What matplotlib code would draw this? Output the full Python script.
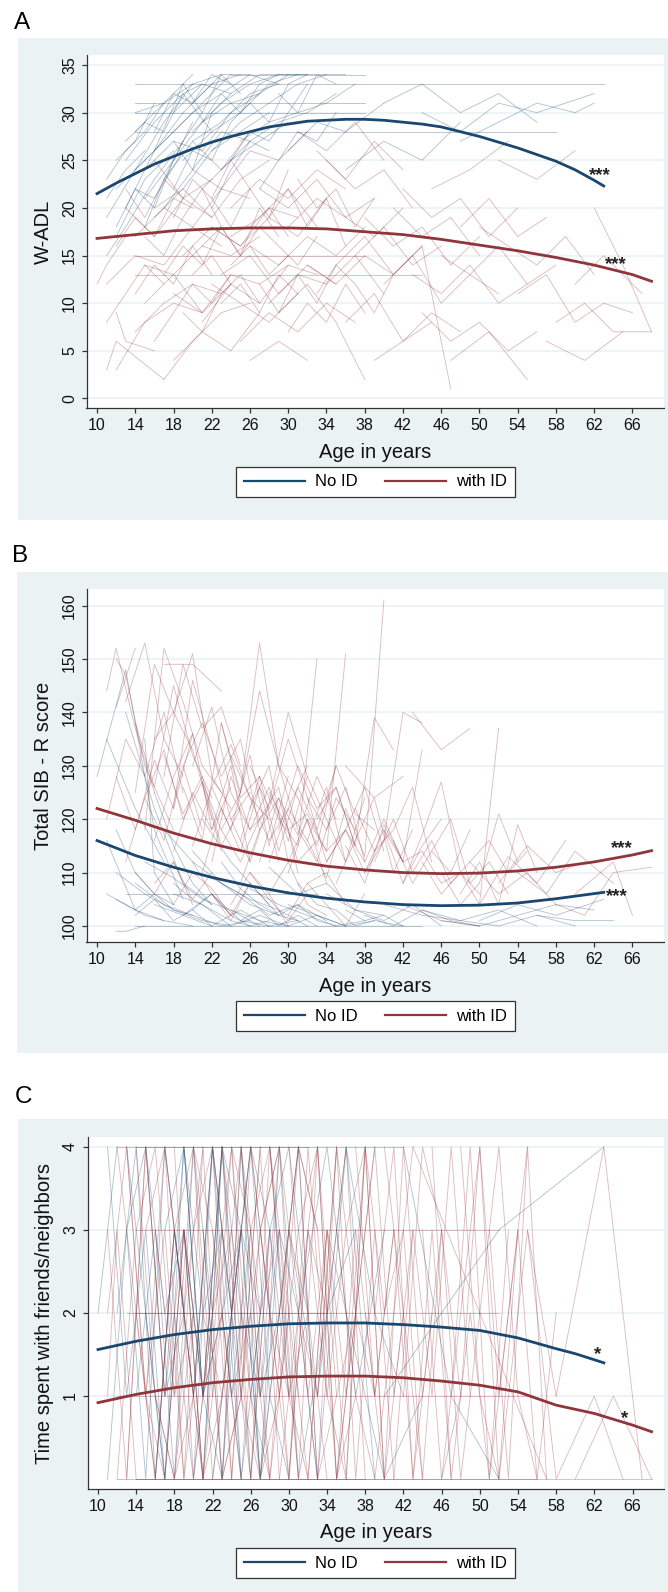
import matplotlib
matplotlib.use("Agg")
import matplotlib.pyplot as plt
from matplotlib.patches import Rectangle

plt.rcParams['font.family'] = ['Liberation Sans', 'DejaVu Sans']

W, H = 668, 1592
NAVY = "#1a476f"
MAROON = "#90353b"
PANEL_BG = "#eaf2f3"
AXIS_COL = "#333333"

age_ticks = [10, 14, 18, 22, 26, 30, 34, 38, 42, 46, 50, 54, 58, 62, 66]
group_labels = ["No ID", "with ID"]

# ---------------- panel A : W-ADL ----------------
adl_ticks = [0, 5, 10, 15, 20, 25, 30, 35]
adl_fit_age_noid = [10, 12, 14, 16, 18, 20, 22, 24, 26, 28, 30, 32, 34, 36, 38, 40, 42, 44, 46, 48, 50, 52, 54, 56, 58, 60, 62, 63]
adl_fit_noid = [21.5, 22.6, 23.6, 24.6, 25.4, 26.2, 26.9, 27.5, 28.0, 28.5, 28.8, 29.1, 29.2, 29.3, 29.3, 29.2, 29.0, 28.8,
                28.5, 28.0, 27.5, 26.9, 26.3, 25.6, 24.9, 24.0, 22.9, 22.3]
adl_fit_age_id = [10, 14, 18, 22, 26, 30, 34, 38, 42, 46, 50, 54, 58, 62, 66, 68]
adl_fit_id = [16.8, 17.2, 17.6, 17.8, 17.9, 17.9, 17.8, 17.5, 17.2, 16.7, 16.1, 15.5, 14.8, 14.0, 13.0, 12.3]
adl_stars = [("***", 62.6, 24.1), ("***", 64.3, 14.7)]

adl_noid = [
    ([11, 14, 17, 20], [19, 24, 29, 33]),
    ([12, 15, 18, 21, 24], [22, 25, 28, 31, 34]),
    ([13, 16, 19], [20, 26, 33]),
    ([14, 17, 20, 23, 26], [24, 27, 30, 32, 34]),
    ([14, 17, 20, 23], [28, 31, 33, 34]),
    ([15, 18, 21, 24, 27], [21, 25, 29, 31, 32]),
    ([16, 19, 22, 25], [26, 30, 33, 34]),
    ([17, 20, 23, 26, 29], [23, 27, 29, 32, 33]),
    ([18, 21, 24, 27, 30], [30, 33, 32, 34, 34]),
    ([12, 15, 18], [17, 23, 26]),
    ([11, 13, 16, 19], [15, 18, 23, 27]),
    ([19, 22, 25, 28, 31], [25, 28, 30, 33, 34]),
    ([20, 23, 26, 29, 32], [28, 31, 33, 34, 34]),
    ([22, 25, 28, 31, 34], [26, 29, 31, 33, 34]),
    ([24, 27, 30, 33, 36], [30, 32, 34, 34, 34]),
    ([14, 17, 20], [30, 31, 34]),
    ([13, 16, 19, 22], [25, 29, 32, 28]),
    ([16, 19, 22, 25, 28], [19, 22, 26, 28, 30]),
    ([21, 24, 27, 30], [22, 25, 27, 29]),
    ([25, 28, 31, 34, 37], [27, 29, 30, 31, 33]),
    ([14, 24, 34, 44, 54, 63], [33, 33, 33, 33, 33, 33]),
    ([14, 26, 38, 50, 58], [28, 28, 28, 28, 28]),
    ([14, 20, 26, 32, 38], [31, 31, 31, 31, 31]),
    ([14, 22, 30, 38], [30, 30, 30, 30]),
    ([24, 30, 38], [34, 34, 34]),
    ([12, 14, 16, 19], [18, 22, 21, 26]),
    ([15, 18, 21, 24], [24, 27, 26, 30]),
    ([17, 20, 23, 26], [20, 24, 28, 27]),
    ([23, 26, 29, 32, 35], [24, 27, 29, 30, 32]),
    ([18, 20, 22, 24], [27, 24, 30, 32]),
    ([40, 44, 48, 52, 56], [31, 33, 30, 32, 29]),
    ([44, 48, 52, 56, 62], [30, 28, 31, 30, 32]),
    ([48, 52, 56, 60, 62], [27, 29, 31, 30, 31]),
    ([11, 13, 15], [21, 24, 26]),
    ([20, 23, 26, 29], [31, 34, 34, 33]),
    ([11, 13, 15, 17], [23, 26, 28, 31]),
    ([13, 15, 17, 19, 21], [27, 29, 28, 32, 33]),
    ([15, 17, 19, 21], [18, 23, 27, 30]),
    ([16, 18, 20, 22, 24], [28, 32, 31, 34, 33]),
    ([18, 20, 22, 24, 26], [22, 26, 25, 29, 31]),
    ([19, 21, 23, 25], [33, 30, 34, 32]),
    ([21, 23, 25, 27, 29], [29, 32, 30, 33, 34]),
    ([22, 24, 26, 28], [20, 24, 27, 26]),
    ([24, 26, 28, 30, 32], [25, 28, 27, 30, 33]),
    ([26, 28, 30, 32], [31, 29, 33, 34]),
    ([27, 29, 31, 33, 35], [22, 25, 28, 27, 30]),
    ([29, 31, 33, 35], [32, 30, 34, 33]),
    ([12, 14, 16], [25, 27, 31]),
    ([14, 16, 18, 20], [22, 20, 25, 29]),
    ([30, 33, 36, 40], [26, 29, 28, 31]),
    ([36, 40, 44, 48], [24, 27, 25, 29]),
]

adl_id = [
    ([11, 14, 17, 20, 23], [12, 15, 14, 18, 16]),
    ([12, 15, 18, 21], [3, 8, 10, 9]),
    ([14, 17, 20, 23, 26], [17, 20, 18, 22, 21]),
    ([14, 17, 20, 23], [7, 10, 12, 11]),
    ([15, 18, 21, 24, 27], [14, 13, 16, 15, 17]),
    ([16, 19, 22, 25, 28], [20, 22, 19, 23, 25]),
    ([17, 20, 23, 26], [2, 6, 9, 10]),
    ([18, 21, 24, 27, 30], [11, 9, 13, 12, 14]),
    ([19, 22, 25, 28, 31], [15, 18, 16, 20, 19]),
    ([20, 23, 26, 29, 32], [24, 22, 26, 25, 28]),
    ([21, 24, 27, 30, 33], [8, 12, 10, 14, 13]),
    ([22, 25, 28, 31, 34], [18, 16, 19, 17, 21]),
    ([23, 26, 29, 32, 35], [13, 15, 11, 14, 12]),
    ([24, 27, 30, 33, 36], [20, 23, 21, 24, 22]),
    ([25, 28, 31, 34, 37], [6, 9, 7, 10, 8]),
    ([26, 29, 32, 35, 38], [16, 14, 17, 15, 18]),
    ([27, 30, 33, 36, 39], [22, 20, 23, 19, 21]),
    ([28, 31, 34, 37, 40], [10, 13, 12, 15, 11]),
    ([30, 33, 36, 39, 42], [18, 21, 19, 17, 20]),
    ([32, 35, 38, 41, 44], [14, 12, 15, 13, 16]),
    ([34, 37, 40, 43], [25, 22, 24, 20]),
    ([36, 39, 42, 45, 48], [8, 11, 6, 9, 7]),
    ([38, 41, 44, 47, 50], [19, 16, 18, 14, 17]),
    ([40, 43, 46, 49, 52], [12, 15, 10, 13, 11]),
    ([42, 45, 48, 51, 54], [22, 19, 21, 17, 20]),
    ([44, 47, 50, 53, 56], [9, 6, 8, 5, 7]),
    ([46, 49, 52, 55, 58], [15, 13, 16, 12, 14]),
    ([50, 53, 56, 59, 62], [18, 16, 14, 17, 13]),
    ([54, 57, 60, 63, 66], [11, 13, 8, 10, 9]),
    ([58, 61, 64, 68], [8, 10, 7, 7]),
    ([60, 63, 67], [12, 15, 11]),
    ([12, 13, 16], [9, 6, 5]),
    ([13, 16, 19, 22], [20, 17, 21, 19]),
    ([15, 18, 21, 24], [10, 13, 9, 12]),
    ([16, 19, 22], [25, 21, 23]),
    ([18, 21, 24, 27], [4, 7, 5, 9]),
    ([20, 23, 26], [27, 24, 28]),
    ([22, 25, 28, 31], [12, 10, 8, 11]),
    ([24, 27, 30, 33], [17, 19, 22, 18]),
    ([26, 29, 32], [4, 6, 4]),
    ([29, 32, 35, 38], [9, 12, 8, 2]),
    ([33, 36, 39, 42], [26, 23, 27, 24]),
    ([35, 38, 41, 44, 47], [14, 17, 13, 16, 1]),
    ([39, 42, 45], [4, 6, 8]),
    ([45, 49, 53], [22, 24, 27]),
    ([52, 56, 60], [25, 23, 26]),
    ([57, 61, 65], [6, 4, 7]),
    ([14, 24, 34, 44], [13, 13, 13, 13]),
    ([14, 22, 30, 38], [15, 15, 15, 15]),
    ([10, 11, 13], [12, 14, 17]),
    ([47, 51, 55], [4, 7, 2]),
    ([31, 34, 37, 40], [28, 26, 29, 25]),
    ([62, 65, 68], [20, 14, 7]),
    ([11, 12, 17], [3, 6, 2]),
    ([11, 13, 15, 17], [8, 11, 14, 12]),
    ([12, 14, 16, 18, 20], [16, 19, 17, 21, 20]),
    ([13, 15, 17, 19], [22, 19, 23, 21]),
    ([14, 16, 18, 20, 22], [11, 14, 12, 16, 13]),
    ([15, 17, 19, 21, 23], [17, 15, 19, 22, 18]),
    ([16, 18, 20, 22, 24], [6, 9, 12, 10, 13]),
    ([17, 19, 21, 23, 25], [13, 16, 14, 18, 15]),
    ([18, 20, 22, 24, 26], [19, 23, 21, 25, 22]),
    ([19, 21, 23, 25, 27], [9, 7, 11, 13, 10]),
    ([21, 23, 25, 27, 29], [16, 18, 15, 20, 17]),
    ([22, 24, 26, 28, 30], [21, 18, 22, 19, 24]),
    ([23, 25, 27, 29, 31], [10, 12, 9, 13, 11]),
    ([25, 27, 29, 31, 33], [15, 18, 16, 14, 17]),
    ([27, 29, 31, 33, 35], [12, 9, 13, 10, 14]),
    ([28, 30, 32, 34, 36], [19, 22, 18, 21, 16]),
    ([30, 32, 34, 36, 38], [7, 10, 8, 12, 9]),
    ([31, 33, 35, 37, 39], [23, 20, 22, 18, 21]),
    ([33, 35, 37, 39, 41], [11, 14, 12, 9, 13]),
    ([37, 40, 43, 46], [15, 18, 14, 16]),
    ([41, 44, 47, 50], [20, 17, 19, 15]),
    ([43, 46, 49, 52, 55], [13, 11, 14, 10, 12]),
    ([48, 51, 54, 57], [18, 21, 17, 19]),
    ([20, 22, 24], [13, 15, 12]),
    ([24, 26, 28, 30], [14, 16, 13, 15]),
    ([26, 28, 30], [18, 20, 17]),
]

# ---------------- panel B : SIB-R ----------------
sib_ticks = [100, 110, 120, 130, 140, 150, 160]
sib_fit_age_noid = [10, 14, 18, 22, 26, 30, 34, 38, 42, 46, 50, 54, 58, 63]
sib_fit_noid = [116.0, 113.2, 111.0, 109.1, 107.5, 106.2, 105.2, 104.5, 104.0, 103.8, 103.9, 104.3, 105.1, 106.3]
sib_fit_age_id = [10, 14, 18, 22, 26, 30, 34, 38, 42, 46, 50, 54, 58, 62, 66, 68]
sib_fit_id = [122.0, 119.8, 117.4, 115.4, 113.7, 112.3, 111.2, 110.5, 110.0, 109.8, 109.9, 110.3, 111.0, 112.0, 113.3, 114.1]
sib_stars = [("***", 64.9, 115.7), ("***", 64.4, 106.7)]

sib_noid = [
    ([10, 13, 16, 19], [128, 148, 118, 105]),
    ([11, 14, 17, 20], [116, 103, 101, 100]),
    ([12, 15, 18, 21, 24], [110, 106, 103, 101, 100]),
    ([13, 16, 19, 22], [140, 122, 108, 104]),
    ([14, 17, 20, 23, 26], [108, 104, 102, 100, 101]),
    ([15, 18, 21, 24, 27], [112, 109, 105, 103, 100]),
    ([16, 19, 22, 25, 28], [104, 102, 106, 101, 100]),
    ([17, 20, 23, 26, 29], [118, 112, 108, 104, 102]),
    ([18, 21, 24, 27, 30], [106, 104, 100, 102, 100]),
    ([19, 22, 25, 28, 31], [102, 100, 103, 100, 101]),
    ([20, 23, 26, 29, 32], [114, 108, 105, 103, 100]),
    ([22, 25, 28, 31, 34], [109, 106, 102, 104, 101]),
    ([24, 27, 30, 33, 36], [103, 101, 100, 102, 100]),
    ([26, 29, 32, 35, 38], [107, 104, 102, 100, 101]),
    ([28, 31, 34, 37, 40], [111, 106, 108, 103, 102]),
    ([30, 33, 36, 39, 42], [104, 102, 100, 101, 100]),
    ([34, 37, 40, 43, 46], [106, 103, 101, 104, 100]),
    ([38, 41, 44, 47, 50], [102, 100, 103, 101, 100]),
    ([44, 48, 52, 56, 60], [103, 101, 100, 102, 100]),
    ([50, 54, 58, 63], [101, 104, 102, 105]),
    ([12, 13, 15], [99, 99, 100]),
    ([14, 24, 34, 44], [100, 100, 100, 100]),
    ([11, 14, 17], [135, 122, 112]),
    ([15, 16, 18], [135, 110, 104]),
    ([12, 14, 16, 18], [105, 103, 106, 104]),
    ([21, 24, 27], [120, 112, 106]),
    ([13, 23, 33], [106, 106, 106]),
    ([56, 60, 64], [102, 101, 101]),
    ([11, 13, 15, 17], [106, 104, 102, 101]),
    ([12, 14, 16, 18, 20], [118, 110, 106, 103, 102]),
    ([14, 16, 18, 20, 22], [102, 105, 101, 103, 100]),
    ([16, 18, 20, 22], [125, 115, 108, 104]),
    ([18, 20, 22, 24, 26], [108, 105, 103, 101, 100]),
    ([20, 22, 24, 26, 28], [103, 106, 102, 100, 101]),
    ([23, 25, 27, 29, 31], [112, 107, 104, 102, 101]),
    ([25, 27, 29, 31, 33], [101, 103, 100, 102, 100]),
    ([27, 29, 31, 33, 35], [106, 102, 104, 101, 100]),
    ([31, 33, 35, 37, 39], [108, 104, 103, 100, 101]),
    ([36, 38, 40, 42], [103, 101, 102, 100]),
    ([40, 44, 48, 52, 56], [104, 102, 101, 103, 100]),
    ([46, 50, 54, 58, 62], [101, 100, 102, 104, 103]),
]

sib_id = [
    ([11, 12, 14, 16], [144, 152, 137, 125]),
    ([12, 13, 15, 18], [150, 147, 130, 118]),
    ([13, 15, 17, 19], [142, 153, 135, 128]),
    ([14, 16, 18, 20, 22], [125, 149, 140, 133, 120]),
    ([15, 17, 19, 21, 23], [118, 152, 142, 130, 125]),
    ([16, 18, 20, 22, 24], [135, 140, 151, 128, 122]),
    ([17, 19, 21, 23, 25], [128, 149, 137, 141, 130]),
    ([18, 20, 22, 24, 26], [122, 146, 133, 120, 125]),
    ([19, 21, 23, 25, 27], [130, 138, 128, 135, 118]),
    ([20, 22, 24, 26, 28], [115, 126, 134, 124, 120]),
    ([21, 23, 25, 27, 29], [127, 118, 125, 153, 130]),
    ([22, 24, 26, 28, 30], [112, 128, 118, 126, 116]),
    ([23, 25, 27, 29, 31], [138, 125, 144, 130, 124]),
    ([24, 26, 28, 30, 32], [120, 112, 123, 140, 128]),
    ([25, 27, 29, 31, 33], [116, 128, 120, 115, 150]),
    ([26, 28, 30, 32, 34], [130, 122, 135, 124, 118]),
    ([27, 29, 31, 33, 35], [112, 124, 117, 128, 120]),
    ([28, 30, 32, 34, 36], [125, 118, 121, 114, 151]),
    ([29, 31, 33, 35, 37], [118, 130, 122, 126, 115]),
    ([30, 32, 34, 36, 38], [110, 120, 114, 118, 112]),
    ([31, 33, 35, 37, 39], [124, 115, 130, 121, 118]),
    ([32, 34, 36, 38, 40], [116, 109, 122, 113, 161]),
    ([33, 35, 37, 39, 41], [120, 126, 115, 139, 133]),
    ([34, 36, 38, 40, 42, 44], [112, 118, 110, 116, 140, 138]),
    ([36, 38, 40, 42, 44], [115, 108, 119, 112, 133]),
    ([38, 40, 42, 44, 46], [110, 118, 108, 115, 120]),
    ([40, 42, 44, 46, 48], [118, 112, 114, 108, 110]),
    ([42, 44, 46, 48, 50], [108, 117, 127, 110, 106]),
    ([44, 46, 48, 50, 52], [112, 106, 110, 104, 137]),
    ([46, 48, 50, 52, 54], [110, 104, 108, 121, 112]),
    ([48, 50, 52, 54, 56], [106, 112, 104, 119, 110]),
    ([50, 53, 56, 59], [104, 113, 108, 116]),
    ([54, 57, 60, 64], [110, 106, 114, 108]),
    ([58, 61, 64, 68], [104, 102, 110, 111]),
    ([60, 64, 66], [106, 112, 102]),
    ([14, 16, 18, 20], [110, 106, 112, 104]),
    ([16, 18, 20, 22], [108, 112, 105, 110]),
    ([18, 20, 22, 24], [104, 110, 107, 102]),
    ([20, 22, 24, 26], [112, 106, 102, 108]),
    ([22, 24, 26, 28], [106, 101, 108, 104]),
    ([24, 26, 28, 30], [104, 110, 106, 100]),
    ([26, 28, 30, 32], [110, 105, 101, 106]),
    ([28, 30, 32, 34], [106, 112, 104, 102]),
    ([30, 32, 34, 36], [102, 108, 110, 104]),
    ([32, 34, 36, 38], [108, 104, 100, 106]),
    ([42, 46, 50], [104, 101, 100]),
    ([36, 39, 42], [130, 124, 128]),
    ([43, 46, 49], [140, 133, 137]),
    ([17, 20, 23], [149, 149, 144]),
    ([12, 14], [141, 152]),
    ([11, 13, 15, 17, 19], [120, 135, 128, 140, 125]),
    ([12, 14, 16, 18, 20], [128, 118, 131, 122, 136]),
    ([13, 15, 17, 19, 21], [112, 124, 116, 130, 118]),
    ([14, 16, 18, 20, 22], [138, 126, 145, 132, 124]),
    ([15, 17, 19, 21, 23], [124, 133, 120, 127, 114]),
    ([16, 18, 20, 22, 24], [116, 128, 136, 118, 126]),
    ([17, 19, 21, 23, 25], [132, 121, 128, 115, 122]),
    ([18, 20, 22, 24, 26], [114, 125, 118, 130, 112]),
    ([19, 21, 23, 25, 27], [126, 116, 138, 124, 128]),
    ([20, 22, 24, 26, 28], [130, 141, 125, 118, 122]),
    ([21, 23, 25, 27, 29], [110, 122, 114, 126, 112]),
    ([22, 24, 26, 28, 30], [126, 118, 132, 115, 128]),
    ([23, 25, 27, 29, 31], [118, 112, 120, 126, 110]),
    ([24, 26, 28, 30, 32], [132, 124, 116, 122, 130]),
    ([25, 27, 29, 31, 33], [108, 118, 124, 112, 116]),
    ([26, 28, 30, 32, 34], [122, 130, 112, 120, 108]),
    ([27, 29, 31, 33, 35], [128, 114, 126, 118, 130]),
    ([28, 30, 32, 34, 36], [112, 122, 116, 126, 112]),
    ([29, 31, 33, 35, 37], [130, 118, 112, 124, 118]),
    ([30, 32, 34, 36, 38], [116, 128, 120, 112, 124]),
    ([32, 34, 36, 38, 40], [124, 112, 118, 126, 114]),
    ([34, 36, 38, 40, 42], [118, 126, 112, 120, 112]),
    ([35, 37, 39, 41, 43], [108, 116, 124, 110, 118]),
    ([37, 39, 41, 43, 45], [122, 114, 118, 126, 112]),
    ([39, 41, 43, 45, 47], [112, 120, 110, 116, 108]),
    ([41, 43, 45, 47, 49], [116, 108, 114, 110, 118]),
    ([45, 47, 49, 51, 53], [114, 120, 108, 112, 106]),
    ([47, 49, 51, 53, 55], [108, 112, 116, 110, 114]),
    ([49, 52, 55, 58], [112, 106, 110, 104]),
    ([52, 55, 58, 61], [108, 115, 110, 112]),
]

# ---------------- panel C : time with friends ----------------
fr_ticks = [1, 2, 3, 4]
fr_fit_age_noid = [10, 14, 18, 22, 26, 30, 34, 38, 42, 46, 50, 54, 58, 60, 63]
fr_fit_noid = [1.56, 1.66, 1.74, 1.80, 1.84, 1.87, 1.88, 1.88, 1.86, 1.83, 1.79, 1.70, 1.57, 1.51, 1.40]
fr_fit_age_id = [10, 14, 18, 22, 26, 30, 34, 38, 42, 46, 50, 54, 58, 62, 66, 68]
fr_fit_id = [0.92, 1.02, 1.10, 1.16, 1.20, 1.23, 1.24, 1.24, 1.22, 1.18, 1.13, 1.05, 0.89, 0.79, 0.65, 0.57]
fr_stars = [("*", 62.3, 1.58), ("*", 65.2, 0.80)]

fr_noid = [
    ([11, 13, 15, 17], [4, 1, 3, 0]),
    ([12, 14, 16, 18, 20], [2, 4, 0, 3, 1]),
    ([13, 15, 17, 19], [3, 0, 4, 2]),
    ([14, 16, 18, 20, 22], [1, 3, 0, 4, 2]),
    ([15, 17, 19, 21, 23], [4, 2, 3, 0, 4]),
    ([16, 18, 20, 22, 24], [0, 3, 1, 4, 2]),
    ([17, 19, 21, 23, 25], [3, 4, 1, 2, 0]),
    ([18, 20, 22, 24, 26], [2, 0, 4, 1, 3]),
    ([19, 21, 23, 25, 27], [4, 1, 0, 3, 2]),
    ([20, 22, 24, 26, 28], [1, 4, 2, 0, 3]),
    ([21, 23, 25, 27], [3, 0, 4, 1]),
    ([22, 24, 26, 28, 30], [0, 2, 4, 3, 1]),
    ([23, 25, 27, 29], [4, 3, 0, 2]),
    ([24, 26, 28, 30], [2, 4, 1, 0]),
    ([26, 28, 30, 32], [1, 3, 4, 2]),
    ([28, 31, 34, 37], [4, 0, 2, 3]),
    ([30, 33, 36, 39], [3, 1, 4, 0]),
    ([33, 36, 39, 42], [0, 4, 2, 1]),
    ([10, 12], [2, 4]),
    ([36, 40, 44], [2, 0, 1]),
    ([42, 47, 52], [4, 1, 0]),
    ([14, 24, 34], [2, 2, 2]),
    ([12, 25, 38], [0, 0, 0]),
    ([40, 52, 63], [1, 3, 4]),
    ([11, 13, 15, 17, 19], [0, 3, 4, 1, 2]),
    ([13, 15, 17, 19, 21], [4, 2, 0, 4, 1]),
    ([15, 17, 19, 21, 23], [2, 0, 3, 1, 4]),
    ([17, 19, 21, 23, 25], [1, 4, 2, 3, 0]),
    ([19, 21, 23, 25, 27], [3, 1, 4, 0, 2]),
    ([21, 23, 25, 27, 29], [0, 4, 2, 1, 3]),
    ([23, 25, 27, 29, 31], [2, 3, 0, 4, 1]),
    ([25, 27, 29, 31, 33], [4, 0, 3, 2, 0]),
    ([27, 29, 31, 33], [1, 2, 4, 0]),
    ([31, 34, 37, 40], [2, 4, 1, 3]),
]

fr_id = [
    ([11, 13, 15, 17], [3, 0, 4, 1]),
    ([12, 14, 16, 18], [4, 2, 0, 3]),
    ([13, 15, 17, 19, 21], [0, 4, 1, 3, 0]),
    ([14, 16, 18, 20, 22], [2, 0, 3, 4, 1]),
    ([14, 16, 18, 20], [4, 1, 0, 2]),
    ([15, 17, 19, 21, 23], [1, 4, 2, 0, 3]),
    ([16, 18, 20, 22, 24], [3, 1, 4, 0, 2]),
    ([17, 19, 21, 23, 25], [0, 3, 1, 4, 1]),
    ([18, 20, 22, 24, 26], [4, 0, 2, 3, 0]),
    ([19, 21, 23, 25, 27], [2, 4, 0, 1, 4]),
    ([20, 22, 24, 26, 28], [0, 2, 4, 0, 3]),
    ([21, 23, 25, 27, 29], [3, 0, 1, 4, 0]),
    ([22, 24, 26, 28, 30], [1, 4, 3, 0, 2]),
    ([23, 25, 27, 29, 31], [4, 1, 0, 2, 4]),
    ([24, 26, 28, 30, 32], [0, 3, 4, 1, 0]),
    ([25, 27, 29, 31, 33], [2, 0, 1, 4, 3]),
    ([26, 28, 30, 32, 34], [4, 2, 0, 3, 1]),
    ([27, 29, 31, 33, 35], [1, 4, 2, 0, 4]),
    ([28, 30, 32, 34, 36], [3, 0, 4, 1, 0]),
    ([29, 31, 33, 35, 37], [0, 2, 1, 4, 2]),
    ([30, 32, 34, 36, 38], [4, 1, 3, 0, 4]),
    ([31, 33, 35, 37, 39], [2, 4, 0, 3, 1]),
    ([32, 34, 36, 38, 40], [0, 3, 1, 4, 0]),
    ([33, 35, 37, 39, 41], [4, 0, 2, 1, 3]),
    ([34, 36, 38, 40, 42], [1, 3, 4, 0, 2]),
    ([35, 37, 39, 41, 43], [3, 1, 0, 2, 4]),
    ([36, 38, 40, 42, 44], [0, 4, 2, 3, 0]),
    ([38, 40, 42, 44, 46], [2, 0, 4, 1, 3]),
    ([40, 42, 44, 46, 48], [4, 2, 0, 3, 1]),
    ([42, 44, 46, 48, 50], [1, 4, 3, 0, 2]),
    ([44, 46, 48, 50, 52], [3, 0, 1, 4, 0]),
    ([46, 48, 50, 52, 54], [0, 2, 4, 1, 3]),
    ([48, 50, 52, 54, 56], [4, 1, 0, 3, 0]),
    ([50, 52, 54, 56, 58], [2, 4, 1, 0, 2]),
    ([52, 55, 58], [0, 3, 1]),
    ([55, 58, 62, 65], [3, 0, 1, 0]),
    ([58, 63, 67], [1, 4, 0]),
    ([14, 28, 42, 56, 68], [0, 0, 0, 0, 0]),
    ([14, 24, 34, 42], [4, 4, 4, 4]),
    ([14, 24, 34, 42, 52], [3, 3, 3, 3, 3]),
    ([12, 26, 40, 55], [1, 1, 1, 1]),
    ([13, 26, 40, 52], [2, 2, 2, 2]),
    ([43, 50, 57], [4, 2, 0]),
    ([11, 12, 14], [1, 3, 0]),
    ([60, 64, 68], [0, 1, 0]),
    ([11, 13, 15, 17, 19], [2, 4, 1, 0, 3]),
    ([12, 14, 16, 18, 20], [0, 3, 4, 1, 2]),
    ([13, 15, 17, 19, 21], [4, 1, 3, 0, 4]),
    ([15, 17, 19, 21, 23], [3, 4, 0, 2, 1]),
    ([16, 18, 20, 22, 24], [1, 0, 3, 4, 0]),
    ([17, 19, 21, 23, 25], [4, 2, 0, 1, 3]),
    ([18, 20, 22, 24, 26], [0, 1, 4, 2, 4]),
    ([19, 21, 23, 25, 27], [3, 0, 2, 4, 1]),
    ([20, 22, 24, 26, 28], [4, 3, 1, 2, 0]),
    ([21, 23, 25, 27, 29], [1, 2, 0, 3, 4]),
    ([22, 24, 26, 28, 30], [3, 0, 4, 2, 1]),
    ([23, 25, 27, 29, 31], [0, 4, 2, 3, 0]),
    ([24, 26, 28, 30, 32], [4, 1, 0, 3, 2]),
    ([25, 27, 29, 31, 33], [1, 3, 4, 0, 4]),
    ([26, 28, 30, 32, 34], [0, 4, 1, 2, 0]),
    ([27, 29, 31, 33, 35], [3, 1, 3, 4, 1]),
    ([28, 30, 32, 34, 36], [4, 2, 0, 3, 2]),
    ([29, 31, 33, 35, 37], [2, 4, 3, 0, 1]),
    ([30, 32, 34, 36, 38], [0, 3, 2, 4, 0]),
    ([31, 33, 35, 37, 39], [4, 0, 1, 2, 4]),
    ([33, 35, 37, 39, 41], [1, 4, 0, 3, 0]),
    ([35, 37, 39, 41, 43], [0, 2, 4, 1, 3]),
    ([37, 39, 41, 43, 45], [4, 1, 3, 0, 2]),
    ([39, 41, 43, 45, 47], [2, 4, 0, 3, 0]),
    ([41, 43, 45, 47, 49], [0, 3, 1, 4, 1]),
    ([45, 47, 49, 51, 53], [4, 0, 2, 0, 3]),
    ([47, 49, 51, 53, 55], [1, 4, 0, 2, 4]),
    ([51, 53, 55, 57], [3, 0, 4, 0]),
    ([14, 26, 38, 50, 56], [0, 0, 0, 0, 0]),
    ([12, 22, 32], [4, 4, 4]),
]


fig = plt.figure(figsize=(W / 100, H / 100), dpi=100)


def px_axes(left, top, right, bottom):
    return fig.add_axes([left / W, 1 - bottom / H, (right - left) / W, (bottom - top) / H])


def panel_background(x0, y0, x1, y1, letter, letter_x, letter_y):
    fig.add_artist(Rectangle((x0 / W, 1 - y1 / H), (x1 - x0) / W, (y1 - y0) / H,
                             transform=fig.transFigure, facecolor=PANEL_BG,
                             edgecolor="none", zorder=0))
    fig.text(letter_x / W, 1 - letter_y / H, letter, fontsize=17.5,
             ha="left", va="bottom", color="black")


def draw_panel(ax, noid, with_id, fits, yticks, ylim, ylabel, stars, legend_top):
    ax.set_facecolor("white")
    for ages, vals in noid:
        ax.plot(ages, vals, color=NAVY, lw=0.65, alpha=0.32)
    for ages, vals in with_id:
        ax.plot(ages, vals, color=MAROON, lw=0.65, alpha=0.32)

    (a0, f0), (a1, f1) = fits
    h0, = ax.plot(a0, f0, color=NAVY, lw=2.0, zorder=5)
    h1, = ax.plot(a1, f1, color=MAROON, lw=2.0, zorder=5)

    for txt, x, y in stars:
        ax.annotate(txt, xy=(x, y), xytext=(0, -4.5), textcoords="offset points",
                    ha="center", va="center", fontsize=13.5, fontweight="bold",
                    color="#222222", zorder=6)

    ax.set_xlim(8.9, 69.3)
    ax.set_ylim(*ylim)
    ax.set_xticks(age_ticks)
    ax.set_yticks(yticks)
    ax.grid(axis="y", color=PANEL_BG, lw=1.2)
    ax.set_axisbelow(True)
    for s in ["top", "right"]:
        ax.spines[s].set_visible(False)
    for s in ["left", "bottom"]:
        ax.spines[s].set_color(AXIS_COL)
        ax.spines[s].set_linewidth(0.9)
    ax.tick_params(direction="out", length=3.3, width=0.9, color=AXIS_COL,
                   labelsize=11.5, labelcolor="#111111")
    ax.tick_params(axis="x", pad=4)
    ax.tick_params(axis="y", pad=3.5)
    plt.setp(ax.get_yticklabels(), rotation=90, va="center")

    ax.set_xlabel("Age in years", fontsize=14.5, color="#111111")
    ax.xaxis.set_label_coords(0.5, -44 / 353)
    ax.xaxis.label.set_va("center")
    ax.set_ylabel(ylabel, fontsize=14.5, color="#111111")
    ax.yaxis.set_label_coords(-43 / 577.5, 0.5)
    ax.yaxis.label.set_va("center")

    leg = ax.legend([h0, h1], group_labels, ncol=2, loc="upper center",
                    bbox_to_anchor=(375.5 / W, 1 - legend_top / H),
                    bbox_transform=fig.transFigure, fontsize=12,
                    frameon=True, fancybox=False, edgecolor=AXIS_COL, framealpha=1,
                    handlelength=3.7, handletextpad=0.6, columnspacing=1.6,
                    borderpad=0.45, borderaxespad=0)
    leg.get_frame().set_linewidth(0.9)
    for ln in leg.get_lines():
        ln.set_linewidth(1.6)


# panel A
panel_background(18, 38, 668, 520, "A", 14, 34)
axA = px_axes(86.5, 55, 664, 408)
draw_panel(axA, adl_noid, adl_id,
           [(adl_fit_age_noid, adl_fit_noid), (adl_fit_age_id, adl_fit_id)],
           adl_ticks, (-1.0, 36.05), "W-ADL", adl_stars, 467)

# panel B
panel_background(17, 572, 668, 1053, "B", 12, 567)
axB = px_axes(86.5, 589, 664, 942)
draw_panel(axB, sib_noid, sib_id,
           [(sib_fit_age_noid, sib_fit_noid), (sib_fit_age_id, sib_fit_id)],
           sib_ticks, (97.0, 163.1), "Total SIB - R score", sib_stars, 1001)

# panel C
panel_background(18, 1119, 668, 1592, "C", 15, 1108)
axC = px_axes(87.5, 1137, 664, 1489)
draw_panel(axC, fr_noid, fr_id,
           [(fr_fit_age_noid, fr_fit_noid), (fr_fit_age_id, fr_fit_id)],
           fr_ticks, (-0.12, 4.12), "Time spent with friends/neighbors", fr_stars, 1548)

fig.savefig("out.png", dpi=100)
